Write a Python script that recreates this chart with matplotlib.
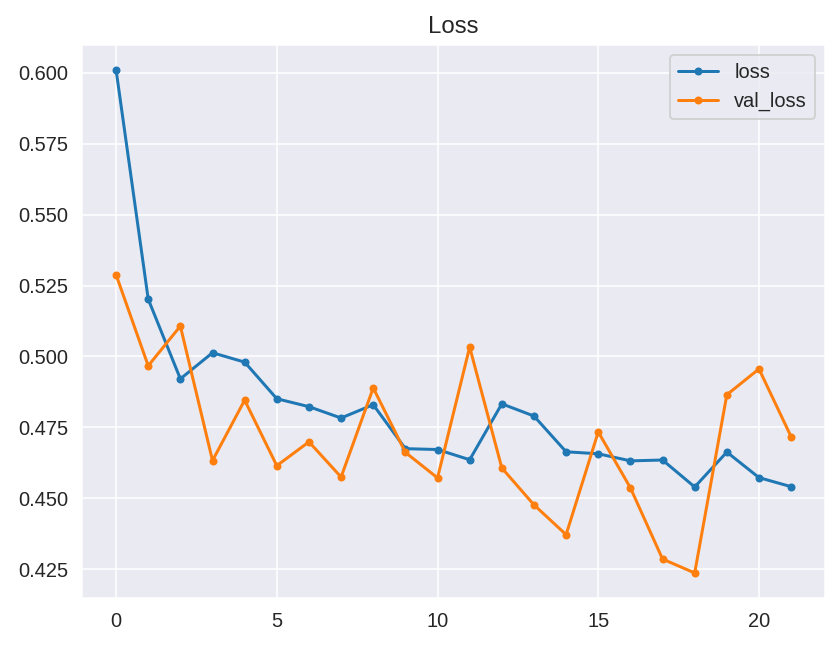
import matplotlib
matplotlib.use("Agg")
import matplotlib.pyplot as plt
import seaborn as sns

epochs = list(range(22))
loss = [0.6010, 0.5202, 0.4921, 0.5013, 0.4980, 0.4851, 0.4823, 0.4783,
        0.4830, 0.4675, 0.4672, 0.4636, 0.4833, 0.4790, 0.4664, 0.4657,
        0.4632, 0.4635, 0.4540, 0.4663, 0.4573, 0.4541]
val_loss = [0.5288, 0.4967, 0.5107, 0.4633, 0.4846, 0.4615, 0.4699, 0.4575,
            0.4889, 0.4662, 0.4572, 0.5033, 0.4607, 0.4477, 0.4372, 0.4734,
            0.4537, 0.4286, 0.4237, 0.4865, 0.4956, 0.4717]

sns.set_style("darkgrid")
plt.rcParams["font.family"] = ["Liberation Sans", "DejaVu Sans"]

fig, ax = plt.subplots(figsize=(840 / 144, 648 / 144), dpi=144)
ax.plot(epochs, loss, marker=".", color="tab:blue", label="loss")
ax.plot(epochs, val_loss, marker=".", color="tab:orange", label="val_loss")
ax.set_title("Loss")
ax.legend(loc="upper right")
fig.subplots_adjust(left=0.098, right=0.982, top=0.931, bottom=0.077)
fig.savefig("out.png", dpi=144)
